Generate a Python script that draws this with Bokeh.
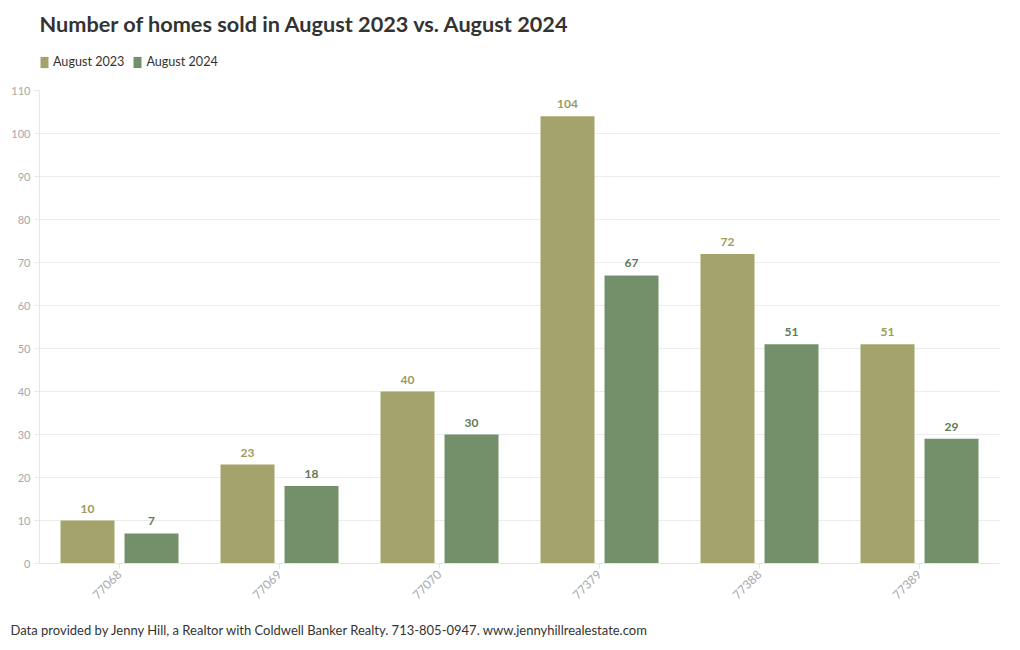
from bokeh.plotting import figure
from bokeh.models import (ColumnDataSource, FactorRange, Range1d, Legend, LegendItem,
                          Title, FixedTicker, LabelSet, Label)
from bokeh.core.properties import value
from bokeh.layouts import column
from bokeh.transform import dodge
from bokeh.embed import file_html
from bokeh.resources import INLINE
from math import pi

zips = ["77068", "77069", "77070", "77379", "77388", "77389"]
aug_2023 = [10, 23, 40, 104, 72, 51]
aug_2024 = [7, 18, 30, 67, 51, 29]
y_ticks = [0, 10, 20, 30, 40, 50, 60, 70, 80, 90, 100, 110]
series_names = ["August 2023", "August 2024"]
title_text = "Number of homes sold in August 2023 vs. August 2024"
footer_text = ("Data provided by Jenny Hill, a Realtor with Coldwell Banker Realty. "
               "713-805-0947. www.jennyhillrealestate.com")

FONT = "Lato"
C23 = "#a4a36b"
C24 = "#74906b"
L23 = "#9c9b5c"
L24 = "#5f7a55"

W = 1011
LEFT = 39
# ---------- header (title + legend) ----------
H = 80
hdr = figure(width=W, height=H, output_backend="svg", toolbar_location=None,
             x_range=Range1d(0, W - LEFT - 12), y_range=Range1d(H, 0),
             x_axis_location=None, y_axis_location=None,
             min_border_left=LEFT, min_border_right=12,
             min_border_top=0, min_border_bottom=0)
hdr.grid.visible = False
hdr.outline_line_color = None
hdr.border_fill_color = "white"
hdr.background_fill_color = "white"

hdr.add_layout(Label(x=0, y=23, text=title_text, text_baseline="middle",
                     text_font=FONT, text_font_size="21.7px", text_font_style="bold",
                     text_color="#333333"))

# legend swatch renderers (kept outside the visible header range)
d1 = hdr.vbar(x=[-1000], top=[0], width=1, fill_color=C23, line_color=None)
d2 = hdr.vbar(x=[-1000], top=[0], width=1, fill_color=C24, line_color=None)
legend = Legend(items=[LegendItem(label=series_names[0], renderers=[d1]),
                       LegendItem(label=series_names[1], renderers=[d2])],
                orientation="horizontal", location=(0, 11),
                label_text_font=FONT, label_text_font_size="12.6px", label_text_color="#333333",
                glyph_width=10, glyph_height=14, label_standoff=4, spacing=8,
                padding=0, margin=0, border_line_color=None, background_fill_alpha=0)
hdr.add_layout(legend, "center")

# ---------- main chart ----------
src = ColumnDataSource(dict(zip=zips, a=aug_2023, b=aug_2024,
                            la=[str(v) for v in aug_2023],
                            lb=[str(v) for v in aug_2024]))

p = figure(frame_width=960, frame_height=473, output_backend="svg", toolbar_location=None,
           x_range=FactorRange(*zips, range_padding=0), y_range=Range1d(0, 110),
           min_border_left=LEFT, min_border_right=12, min_border_top=10, min_border_bottom=0)
p.outline_line_color = None
p.background_fill_color = "white"
p.border_fill_color = "white"

r1 = p.vbar(x=dodge("zip", -0.2, range=p.x_range), top="a", width=0.3375, source=src,
            fill_color=C23, line_color=None)
r2 = p.vbar(x=dodge("zip", 0.2, range=p.x_range), top="b", width=0.3375, source=src,
            fill_color=C24, line_color=None)

lab1 = LabelSet(x=dodge("zip", -0.2, range=p.x_range), y="a", text="la", source=src,
                text_align="center", y_offset=8, text_font=value(FONT), text_font_size=value("12px"),
                text_font_style=value("bold"), text_color=value(L23))
lab2 = LabelSet(x=dodge("zip", 0.2, range=p.x_range), y="b", text="lb", source=src,
                text_align="center", y_offset=8, text_font=value(FONT), text_font_size=value("12px"),
                text_font_style=value("bold"), text_color=value(L24))
p.add_layout(lab1)
p.add_layout(lab2)

p.yaxis.ticker = FixedTicker(ticks=y_ticks)
p.yaxis.minor_tick_line_color = None
p.yaxis.axis_line_color = "#e6e6e6"
p.yaxis.major_tick_line_color = "#e6e6e6"
p.yaxis.major_tick_in = 0
p.yaxis.major_tick_out = 5
p.yaxis.major_label_text_font = FONT
p.yaxis.major_label_text_font_size = "11px"
p.yaxis.major_label_text_color = "#a8a8a8"
p.yaxis.major_label_standoff = 4

p.xaxis.axis_line_color = "#e6e6e6"
p.xaxis.major_tick_line_color = "#e6e6e6"
p.xaxis.major_tick_in = 0
p.xaxis.major_tick_out = 5
p.xaxis.major_label_orientation = pi / 4
p.xaxis.major_label_text_font = FONT
p.xaxis.major_label_text_font_size = "12px"
p.xaxis.major_label_text_color = "#a8a8a8"
p.xaxis.major_label_standoff = 4

p.xgrid.grid_line_color = None
p.ygrid.grid_line_color = "#ececec"

footer = Title(text=footer_text, align="left", text_font=FONT, text_font_size="13px",
               text_font_style="normal", text_color="#333333", offset=-29, standoff=28)
p.add_layout(footer, "below")

layout = column(hdr, p, spacing=0)
open("out.html", "w").write(file_html(layout, INLINE))
